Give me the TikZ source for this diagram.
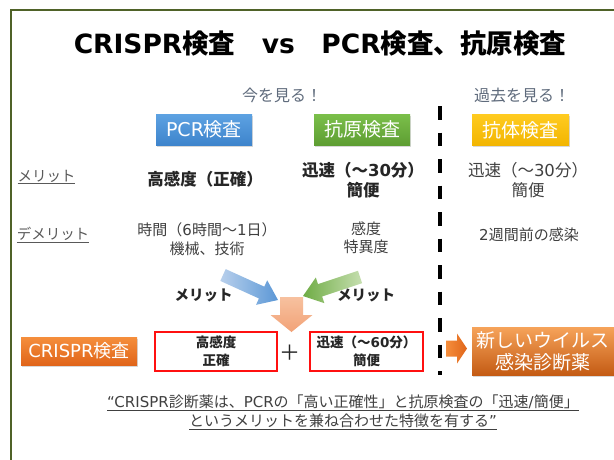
\documentclass[tikz,border=0pt]{standalone}
\usepackage{fontspec}
\setmainfont{Noto Sans CJK JP}
\newfontfamily\lat{DejaVu Sans}
\usetikzlibrary{calc,shadows}
\definecolor{framec}{HTML}{4F6228}
\definecolor{txgray}{HTML}{595959}
\definecolor{txdark}{HTML}{404040}
\definecolor{txbold}{HTML}{262626}
\definecolor{txblue}{HTML}{5F6B7C}
\definecolor{pcrtop}{HTML}{5DA2E2}
\definecolor{pcrbot}{HTML}{3E84CC}
\definecolor{agtop}{HTML}{7BBF4A}
\definecolor{agbot}{HTML}{5E9E33}
\definecolor{abtop}{HTML}{FFCB1F}
\definecolor{abbot}{HTML}{F2B500}
\definecolor{ortop}{HTML}{F58E3C}
\definecolor{orbot}{HTML}{E0651A}
\definecolor{nbtop}{HTML}{F6A35A}
\definecolor{nbbot}{HTML}{C45B14}
\definecolor{bluel}{HTML}{B8D0EC}
\definecolor{blued}{HTML}{5B97D6}
\definecolor{greenl}{HTML}{C6DFB0}
\definecolor{greend}{HTML}{6FAC45}
\definecolor{salml}{HTML}{F7C19F}
\definecolor{salmd}{HTML}{F2A277}
\definecolor{redbox}{HTML}{FF1010}
\newcommand\fatarr[6]{%
  \path[#6] ($(#1)!#3!90:(#2)$) -- ($($(#2)!#5!(#1)$)!#3!-90:(#1)$)
    -- ($($(#2)!#5!(#1)$)!#4!-90:(#1)$) -- (#2)
    -- ($($(#2)!#5!(#1)$)!#4!90:(#1)$) -- ($($(#2)!#5!(#1)$)!#3!90:(#1)$)
    -- ($(#1)!#3!-90:(#2)$) -- cycle;}
\tikzset{
  tagbox/.style={text=white, inner sep=0pt, minimum height=31, font=\fontsize{19}{22}\selectfont,
    drop shadow={opacity=0.3, shadow xshift=0.6pt, shadow yshift=-1.5pt}},
  rowlabel/.style={text=txgray, font=\fontsize{14.5}{17}\selectfont, inner sep=0pt},
  colbold/.style={text=txbold, align=center, font=\bfseries\fontsize{16.5}{20}\selectfont, inner sep=0pt},
  colreg/.style={text=txdark, align=center, font=\fontsize{16.5}{20}\selectfont, inner sep=0pt},
  colsmall/.style={text=txdark, align=center, font=\fontsize{15}{18.5}\selectfont, inner sep=0pt},
  meritlbl/.style={text=txbold, font=\bfseries\fontsize{14.5}{17}\selectfont, inner sep=0pt},
  redbx/.style={draw=redbox, line width=2pt, fill=white, text=txbold, align=center,
    font=\bfseries\fontsize{13.5}{18}\selectfont, minimum height=39, inner sep=0pt},
}
\begin{document}
\begin{tikzpicture}[x=1pt,y=-1pt]
\useasboundingbox (0,0) rectangle (614,459);
\fill[white] (0,0) rectangle (614,459);
\draw[framec, line width=1.6pt] (616,10) -- (11,10) -- (11,461);

% title
\node[font=\bfseries\fontsize{26.5}{30}\selectfont, text=black, inner sep=0pt] (title) at (320,43)
  {{\lat CRISPR}検査　{\lat vs}　{\lat PCR}検査、抗原検査};

% headings
\node[text=txblue, font=\fontsize{16}{19}\selectfont, inner sep=0pt] (now) at (282,95) {今を見る！};
\node[text=txblue, font=\fontsize{16}{19}\selectfont, inner sep=0pt] (past) at (522,95) {過去を見る！};

\node[tagbox, top color=pcrtop, bottom color=pcrbot, minimum width=96] (pcr) at (204,129.5) {{\lat PCR}検査};
\node[tagbox, top color=agtop, bottom color=agbot, minimum width=96] (ag) at (362,129.5) {抗原検査};
\node[tagbox, top color=abtop, bottom color=abbot, minimum width=97] (ab) at (520.5,130) {抗体検査};

% divider
\coordinate (dvtop) at (440,106);
\coordinate (dvbot) at (440,375);
\draw[black, line width=4pt, dash pattern=on 13.5pt off 13pt] (dvtop) -- (dvbot);

% row labels
\node[rowlabel] (merit) at (46.5,177) {\underline{メリット}};
\node[rowlabel] (demerit) at (53,235) {\underline{デメリット}};

% merit row
\node[colbold] (hk) at (205,179) {高感度（正確）};
\node[colbold] (jb) at (363,180) {迅速（～{\lat 30}分）\\簡便};
\node[colreg] (jr) at (528,180) {迅速（～{\lat 30}分）\\簡便};

% demerit row
\node[colsmall] (jk) at (207,239) {時間（{\lat 6}時間～{\lat 1}日）\\機械、技術};
\node[colsmall] (kd) at (366,238) {感度\\特異度};
\node[colsmall] (nw) at (529,235) {{\lat 2}週間前の感染};

% arrows
\coordinate (bat) at (223,275);
\coordinate (bap) at (278,300);
\fatarr{bat}{bap}{6.5pt}{13.5pt}{18pt}{left color=bluel, right color=blued}
\coordinate (gat) at (360,277);
\coordinate (gap) at (303,296);
\fatarr{gat}{gap}{6.5pt}{13.5pt}{18pt}{left color=greend, right color=greenl}
\coordinate (oat) at (291.5,297);
\coordinate (oap) at (291.5,332);
\fatarr{oat}{oap}{11.5pt}{21pt}{17pt}{top color=salml, bottom color=salmd}

\node[meritlbl] (ml) at (203.5,295) {メリット};
\node[meritlbl] (mr) at (366,295) {メリット};

% CRISPR row
\node[tagbox, top color=ortop, bottom color=orbot, minimum width=116, minimum height=28,
  font=\fontsize{18}{21}\selectfont] (crb) at (79,351) {{\lat CRISPR}検査};
\node[redbx, minimum width=122] (r1) at (216,351.5) {高感度\\正確};
\node[text=txbold, font=\fontsize{21}{24}\selectfont, inner sep=0pt] (plus) at (289.5,353) {＋};
\node[redbx, minimum width=113] (r2) at (366.5,351.5) {迅速（～{\lat 60}分）\\簡便};

\coordinate (sat) at (446,348.5);
\coordinate (sap) at (467,348.5);
\fatarr{sat}{sap}{8pt}{15pt}{10pt}{left color=ortop, right color=orbot}

\node[tagbox, top color=nbtop, bottom color=nbbot, minimum width=142, minimum height=48,
  align=center, font=\fontsize{19}{22}\selectfont] (nb) at (543,351) {新しいウイルス\\感染診断薬};

% quote
\node[text=txdark, align=center, font=\fontsize{15}{19}\selectfont, inner sep=0pt] (quote) at (343,412)
  {\underline{{\lat “CRISPR}診断薬は、{\lat PCR}の「高い正確性」と抗原検査の「迅速{\lat /}簡便」}\\
   \underline{というメリットを兼ね合わせた特徴を有する{\lat ”}}};
\end{tikzpicture}
\end{document}
